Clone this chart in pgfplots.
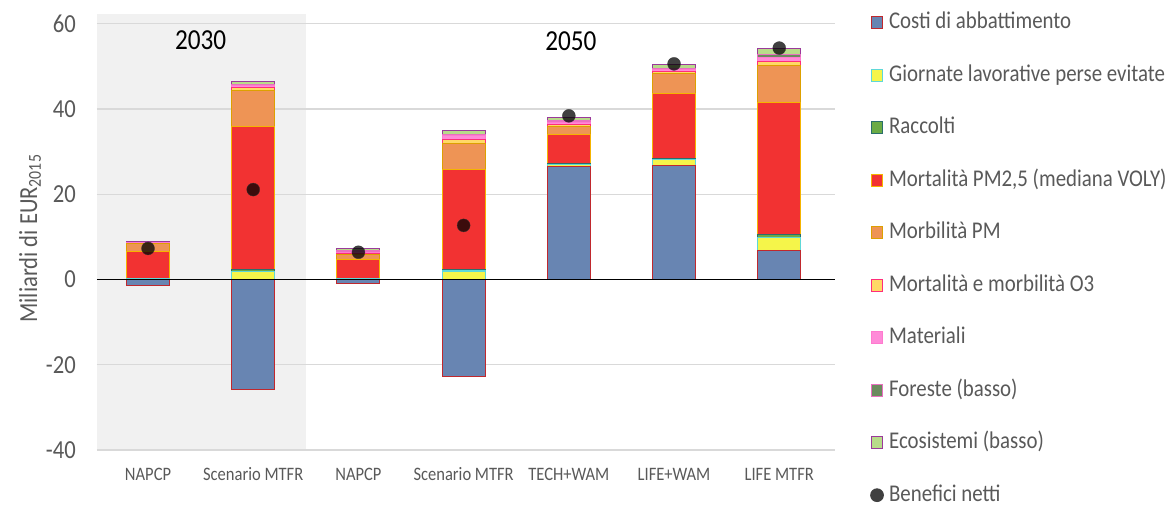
\documentclass[border=0pt]{standalone}
\usepackage{pgfplots}
\pgfplotsset{compat=1.18}
\usepackage{pgfplotstable}
\usepackage{fontspec}
\setmainfont{Carlito}[FakeStretch=0.87]
\definecolor{txtgray}{HTML}{595959}
\definecolor{bggray}{HTML}{F1F1F1}
\definecolor{gridgray}{HTML}{D9D9D9}
\definecolor{costF}{HTML}{6885B2}\definecolor{costE}{HTML}{C0282D}
\definecolor{gioF}{HTML}{F5F54A}\definecolor{gioE}{HTML}{5ED8D8}
\definecolor{racF}{HTML}{6AAB45}\definecolor{racE}{HTML}{2A6F6A}
\definecolor{pmF}{HTML}{F23232}\definecolor{pmE}{HTML}{F5B400}
\definecolor{morF}{HTML}{EE9455}\definecolor{morE}{HTML}{DDA000}
\definecolor{ozF}{HTML}{FFD966}\definecolor{ozE}{HTML}{FF2D7A}
\definecolor{matF}{HTML}{FF8AD8}\definecolor{matE}{HTML}{FF7ACF}
\definecolor{forF}{HTML}{6B8A5E}\definecolor{forE}{HTML}{E870C0}
\definecolor{ecoF}{HTML}{B8DC8A}\definecolor{ecoE}{HTML}{9A3A9A}

\pgfplotstableread{
x cost gio rac pm mor oz mat for eco
0 0    0.2 0.1 6.2  1.9 0.1 0.1 0.05 0.2
1 0    1.9 0.5 33.6 8.4 0.6 0.5 0.3 0.6
2 0    0.2 0.1 4.4  1.2 0.2 0.3 0.3 0.5
3 0    2.0 0.4 23.4 6.2 0.8 0.9 0.3 1.0
4 26.6 0.4 0.2 6.9  1.9 0.4 0.5 0.3 0.8
5 26.7 1.4 0.2 15.4 4.6 0.5 0.4 0.3 0.9
6 6.8  3.0 0.7 31.1 8.6 1.0 0.8 0.7 1.4
}\pos
\pgfplotstableread{
x cost
0 -1.4
1 -25.8
2 -1.0
3 -22.7
}\negcost
\pgfplotstableread{
x net
0 7.3
1 21.1
2 6.4
3 12.7
4 38.4
5 50.6
6 54.3
}\net

\begin{document}
\begin{tikzpicture}
\path[use as bounding box] (-97pt,-56pt) rectangle (1072pt,450pt);
\begin{axis}[
  at={(0pt,0pt)}, anchor=south west,
  scale only axis, width=738pt, height=436pt,
  xmin=-0.485, xmax=6.53, ymin=-40, ymax=62.3,
  hide axis,
]
\fill[bggray] (axis cs:-0.485,-40) rectangle (axis cs:1.5,62.3);
\end{axis}
\begin{axis}[
  at={(0pt,0pt)}, anchor=south west,
  scale only axis, width=738pt, height=436pt,
  xmin=-0.485, xmax=6.53, ymin=-40, ymax=62.3,
  ybar stacked, bar width=43pt,
  axis line style={draw=none},
  major tick length=0pt,
  ytick={-40,-20,0,20,40,60},
  ymajorgrids, grid style={gridgray, line width=1.3pt},
  xtick={0,1,2,3,4,5,6},
  xticklabels={NAPCP,Scenario MTFR,NAPCP,Scenario MTFR,TECH+WAM,LIFE+WAM,LIFE MTFR},
  xticklabel style={font=\fontsize{19}{22}\selectfont, text=txtgray, inner sep=0pt, anchor=center, yshift=-24pt},
  yticklabel style={font=\fontsize{26}{30}\selectfont, text=txtgray, inner sep=0pt, anchor=east, xshift=-21pt},
  /pgf/number format/assume math mode=true,
  ylabel={Miliardi di EUR\textsubscript{2015}},
  ylabel style={font=\fontsize{26}{30}\selectfont, text=txtgray, at={(axis description cs:-0.0908,0.485)}, anchor=center},
  every axis plot/.append style={line width=1.1pt},
  legend image code/.code={\path (0pt,-6pt) (18pt,6pt); \draw[#1, line width=1.1pt] (0.6pt,-5.4pt) rectangle (12.4pt,6.4pt);},
  legend cell align=left,
  legend style={at={(1.0474,1.003)}, anchor=north west, draw=none, fill=none, inner sep=0pt, outer sep=0pt,
    row sep=31.5pt, font=\fontsize{24}{28}\selectfont, text=txtgray,
    nodes={inner sep=0pt, text height=16pt, text depth=5pt}},
]
\addplot[fill=costF, draw=costE] table[x=x,y=cost]{\pos};
\addlegendentry{Costi di abbattimento}
\addplot[fill=gioF, draw=gioE] table[x=x,y=gio]{\pos};
\addlegendentry{Giornate lavorative perse evitate}
\addplot[fill=racF, draw=racE] table[x=x,y=rac]{\pos};
\addlegendentry{Raccolti}
\addplot[fill=pmF, draw=pmE] table[x=x,y=pm]{\pos};
\addlegendentry{Mortalità PM2,5 (mediana VOLY)}
\addplot[fill=morF, draw=morE] table[x=x,y=mor]{\pos};
\addlegendentry{Morbilità PM}
\addplot[fill=ozF, draw=ozE] table[x=x,y=oz]{\pos};
\addlegendentry{Mortalità e morbilità O3}
\addplot[fill=matF, draw=matE] table[x=x,y=mat]{\pos};
\addlegendentry{Materiali}
\addplot[fill=forF, draw=forE] table[x=x,y=for]{\pos};
\addlegendentry{Foreste (basso)}
\addplot[fill=ecoF, draw=ecoE] table[x=x,y=eco]{\pos};
\addlegendentry{Ecosistemi (basso)}
\addlegendimage{legend image code/.code={\path (0pt,-6pt) (18pt,6pt); \fill[black!75] (6.5pt,0.5pt) circle (6.3pt);}}
\addlegendentry{Benefici netti}
\node[font=\fontsize{29}{32}\selectfont, text=black] at (axis cs:0.50,56.2) {2030};
\node[font=\fontsize{29}{32}\selectfont, text=black] at (axis cs:4.02,56.0) {2050};
\end{axis}
\begin{axis}[
  at={(0pt,0pt)}, anchor=south west,
  scale only axis, width=738pt, height=436pt,
  xmin=-0.485, xmax=6.53, ymin=-40, ymax=62.3,
  hide axis, clip=false,
]
\addplot[ybar, bar width=43pt, bar shift=0pt, fill=costF, draw=costE, line width=1.1pt] table[x=x,y=cost]{\negcost};
\draw[black, line width=1.3pt] (axis cs:-0.485,0) -- (axis cs:6.53,0);
\addplot[only marks, mark=*, mark size=6.5pt, mark options={fill=black, fill opacity=0.75, draw=black!80, draw opacity=0.8}] table[x=x,y=net]{\net};
\end{axis}
\end{tikzpicture}
\end{document}
